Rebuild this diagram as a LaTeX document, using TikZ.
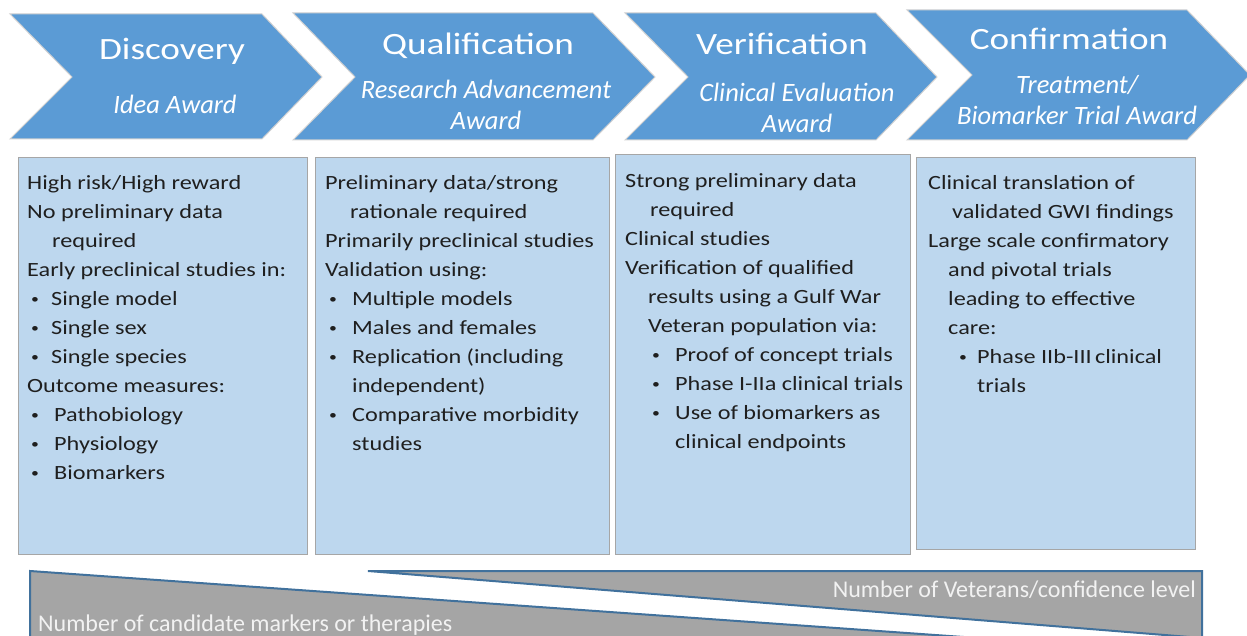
\documentclass[tikz,border=0pt]{standalone}
\usepackage{fontspec}
\setmainfont{Carlito}[FakeStretch=1.2]
\newfontfamily\plainfont{Carlito}
\usetikzlibrary{positioning}

\definecolor{chevblue}{HTML}{5B9BD5}
\definecolor{boxblue}{HTML}{BDD7EE}
\definecolor{wedgegray}{HTML}{A5A5A5}
\definecolor{wedgeline}{HTML}{41719C}
\definecolor{wedgetext}{HTML}{F2F2F2}

\newcommand{\ind}[1][25pt]{\hspace*{#1}}
\newcommand{\bul}[1][24pt]{\makebox[#1][l]{\hspace*{4pt}\raisebox{2pt}{\scalebox{0.65}{\textbullet}}}}

\tikzset{
  chev/.style={fill=chevblue, draw=black!18, line width=1pt},
  stage/.style={text=white, inner sep=0pt, anchor=base, font=\fontsize{31}{36}\selectfont},
  award/.style={text=white, inner sep=0pt, anchor=north, align=center, font=\plainfont\itshape\fontsize{26.5}{31}\selectfont},
  card/.style={fill=boxblue, draw=black!35, line width=0.8pt},
  cardtext/.style={inner sep=0pt, anchor=north west, align=left, text=black!88, font=\fontsize{20.2}{29}\selectfont},
  wedge/.style={fill=wedgegray},
  wedgeedge/.style={draw=wedgeline, line width=2pt},
  wedgelabel/.style={text=wedgetext, inner sep=0pt, font=\plainfont\fontsize{24}{28}\selectfont},
}

\begin{document}
\begin{tikzpicture}[x=1pt,y=-1pt]
\useasboundingbox (0,0) rectangle (1247,636);
\clip (0,0) rectangle (1247,636);

% stages
\draw[chev] (10,14) -- (262,14) -- (322,77) -- (262,139) -- (10,139) -- (72,77) -- cycle;
\draw[chev] (293,13) -- (593,13) -- (655,77) -- (593,140) -- (293,140) -- (355,77) -- cycle;
\draw[chev] (625,13) -- (876,13) -- (937,77) -- (876,140) -- (625,140) -- (688,77) -- cycle;
\draw[chev] (907,10) -- (1187,10) -- (1250,75) -- (1187,140) -- (907,140) -- (972,75) -- cycle;

\node[stage] (discovery) at (172,60) {Discovery};
\node[award] (idea) at (175,91.3) {\strut Idea Award};
\node[stage] (qualification) at (478,55) {Qualification};
\node[award] (advancement) at (486,76.6) {\strut Research Advancement\\Award};
\node[stage] (verification) at (782,55) {Verification};
\node[award] (evaluation) at (797,79.3) {\strut Clinical Evaluation\\Award};
\node[stage] (confirmation) at (1069,50) {Confirmation};
\node[award] (trial) at (1077,71.3) {\strut Treatment/\\Biomarker Trial Award};

% cards
\draw[card] (18,157) rectangle (307,554);
\draw[card] (315,157) rectangle (609,554);
\draw[card] (615,154) rectangle (910,554);
\draw[card] (916,157) rectangle (1195,549);

\node[cardtext] (ideatext) at (27,169) {\strut High risk/High reward\\
No preliminary data\\
\ind required\\
Early preclinical studies in:\\
\bul Single model\\
\bul Single sex\\
\bul Single species\\
Outcome measures:\\
\bul[27pt]Pathobiology\\
\bul[27pt]Physiology\\
\bul[27pt]Biomarkers};

\node[cardtext] (advancementtext) at (325,169) {\strut Preliminary data/strong\\
\ind rationale required\\
Primarily preclinical studies\\
Validation using:\\
\bul[27pt]Multiple models\\
\bul[27pt]Males and females\\
\bul[27pt]Replication (including\\
\ind[27pt]independent)\\
\bul[27pt]Comparative morbidity\\
\ind[27pt]studies};

\node[cardtext] (evaluationtext) at (625,167) {\strut Strong preliminary data\\
\ind required\\
Clinical studies\\
Verification of qualified\\
\ind[23pt]results using a Gulf War\\
\ind[23pt]Veteran population via:\\
\ind[23pt]\bul[27pt]Proof of concept trials\\
\ind[23pt]\bul[27pt]Phase I-IIa clinical trials\\
\ind[23pt]\bul[27pt]Use of biomarkers as\\
\ind[50pt]clinical endpoints};

\node[cardtext] (trialtext) at (928,169) {\strut Clinical translation of\\
\ind[24pt]validated GWI findings\\
Large scale confirmatory\\
\ind[20pt]and pivotal trials\\
\ind[20pt]leading to effective\\
\ind[20pt]care:\\
\ind[27pt]\bul[22pt]Phase IIb-III\,clinical\\
\ind[49pt]trials};

% wedges
\fill[wedge] (30,571) -- (1204,654) -- (30,654) -- cycle;
\draw[wedgeedge] (30,660) -- (30,571) -- (1204,654);
\filldraw[wedge,wedgeedge] (368,571) -- (1202,571) -- (1202,638) -- cycle;
\draw[wedgeedge] (1202,638) -- (1202,660);

\node[wedgelabel, anchor=base west] (candidates) at (38,631) {Number of candidate markers or therapies};
\node[wedgelabel, anchor=base east] (veterans) at (1196,597) {Number of Veterans/confidence level};
\end{tikzpicture}
\end{document}
